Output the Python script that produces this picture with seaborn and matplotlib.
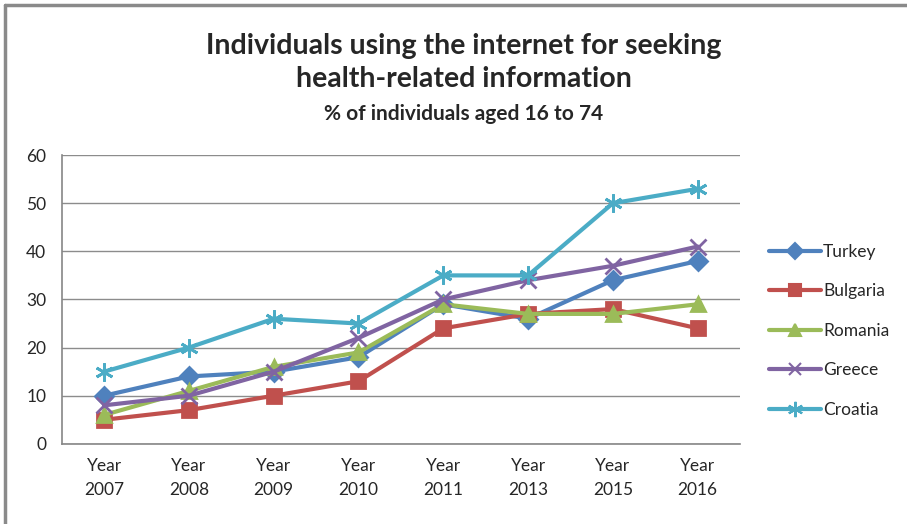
import matplotlib
matplotlib.use("Agg")
import matplotlib.pyplot as plt
import seaborn as sns
from matplotlib.lines import Line2D

# Data
years = ["Year\n2007", "Year\n2008", "Year\n2009", "Year\n2010",
         "Year\n2011", "Year\n2013", "Year\n2015", "Year\n2016"]
turkey = [10, 14, 15, 18, 29, 26, 34, 38]
bulgaria = [5, 7, 10, 13, 24, 27, 28, 24]
romania = [6, 11, 16, 19, 29, 27, 27, 29]
greece = [8, 10, 15, 22, 30, 34, 37, 41]
croatia = [15, 20, 26, 25, 35, 35, 50, 53]

series = [
    ("Turkey", turkey, "#4F81BD", "D", 9),
    ("Bulgaria", bulgaria, "#C0504D", "s", 10),
    ("Romania", romania, "#9BBB59", "^", 10),
    ("Greece", greece, "#8064A2", "x", 11),
    ("Croatia", croatia, "#4BACC6", (6, 2, 0), 13),
]

sns.set_style("white")
plt.rcParams["font.family"] = ["Lato", "DejaVu Sans"]

fig = plt.figure(figsize=(9.07, 5.24), dpi=100)
ax = fig.add_axes([0.068, 0.153, 0.748, 0.551])

pos = list(range(len(years)))
for name, vals, color, marker, ms in series:
    sns.lineplot(x=pos, y=vals, ax=ax, color=color, marker=marker,
                 markersize=ms, mec=color, mfc=color, mew=2,
                 linewidth=3, label=name)

ax.set_xlim(-0.5, len(years) - 0.5)
ax.set_ylim(0, 60)
ax.set_yticks(range(0, 61, 10))
ax.set_xticks(pos)
ax.set_xticklabels(years, fontsize=12.5, linespacing=1.6)
ax.tick_params(axis="y", labelsize=12.5, length=5, color="#868686", pad=6)
ax.tick_params(axis="x", length=0, pad=10)
ax.set_xticks([p - 0.5 for p in range(len(years) + 1)], minor=True)
ax.tick_params(axis="x", which="minor", length=6, color="#868686", direction="out")
ax.grid(axis="y", color="#8c8c8c", linewidth=1)
ax.set_axisbelow(True)
for side in ["top", "right"]:
    ax.spines[side].set_visible(False)
for side in ["left", "bottom"]:
    ax.spines[side].set_color("#868686")
    ax.spines[side].set_linewidth(1.2)
ax.set_xlabel("")
ax.set_ylabel("")

handles = [Line2D([0], [0], color=c, marker=m, markersize=ms * 0.85, mec=c,
                  mfc=c, mew=1.5, linewidth=3)
           for _, _, c, m, ms in series]
ax.legend(handles, [s[0] for s in series], loc="center left",
          bbox_to_anchor=(1.02, 0.391), frameon=False, fontsize=12.5,
          handlelength=3.0, handletextpad=0.1, labelspacing=1.35,
          numpoints=1)

fig.text(0.511, 0.912, "Individuals using the internet for seeking",
         ha="center", va="center", fontsize=20.5, fontweight="bold")
fig.text(0.511, 0.850, "health-related information",
         ha="center", va="center", fontsize=20.5, fontweight="bold")
fig.text(0.511, 0.783, "% of individuals aged 16 to 74",
         ha="center", va="center", fontsize=15, fontweight="bold")

# outer chart frame (left and top edges visible)
fig.add_artist(Line2D([0.006, 0.006], [0, 0.99], color="#8a8a8a",
                      linewidth=2.5, transform=fig.transFigure))
fig.add_artist(Line2D([0.006, 1], [0.99, 0.99], color="#8a8a8a",
                      linewidth=2.5, transform=fig.transFigure))

fig.savefig("out.png", dpi=100)
